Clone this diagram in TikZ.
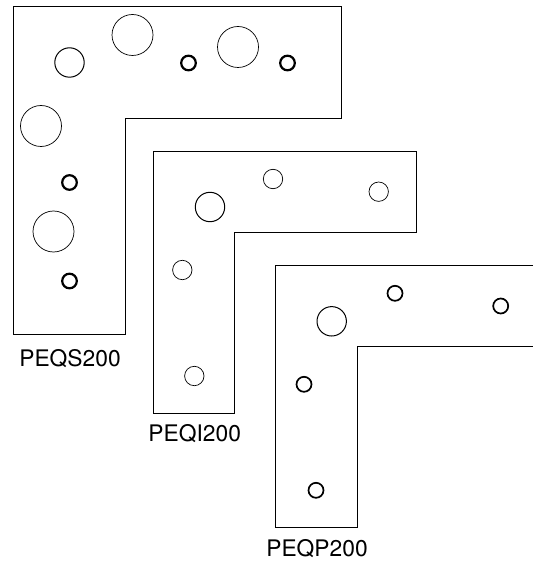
\documentclass[tikz,border=0pt]{standalone}
\usepackage{fontspec}
\setmainfont{TeX Gyre Heros}
\tikzset{
  plate/.style={line width=0.9pt, line join=miter},
  hole/.style={line width=0.7pt},
  midhole/.style={line width=1pt},
  pinhole/.style={line width=1.7pt},
  thickhole/.style={line width=2.2pt},
  platename/.style={font=\fontsize{22.8}{24}\selectfont, inner sep=0pt, anchor=base}
}
\begin{document}
\begin{tikzpicture}[x=1pt, y=-1pt]
   \useasboundingbox (0,0) rectangle (533,561);

   \draw [plate] (13,6.5) -- (341,6.5) -- (341,118.5) -- (125,118.5) -- (125,334) -- (13,334) -- cycle;
   \draw [midhole] (69.5,62.5) circle [radius=14.7];
   \draw [hole] (132.5,35) circle [radius=20.5];
   \draw [hole] (238,47) circle [radius=20.5];
   \draw [hole] (41,126) circle [radius=20.5];
   \draw [hole] (53.5,231.5) circle [radius=20.5];
   \draw [thickhole] (188.5,63) circle [radius=7.3];
   \draw [thickhole] (287.5,63) circle [radius=7.3];
   \draw [thickhole] (69.5,182.5) circle [radius=7.3];
   \draw [thickhole] (69.5,281) circle [radius=7.3];
   \node [platename] (nameS) at (70,366.7) {PEQS200};

   \draw [plate] (153.5,151) -- (416,151) -- (416,232) -- (234.5,232) -- (234.5,413) -- (153.5,413) -- cycle;
   \draw [midhole] (210,207) circle [radius=14.7];
   \draw [hole] (273,179) circle [radius=9.7];
   \draw [hole] (378.7,191.7) circle [radius=9.7];
   \draw [hole] (182.3,270) circle [radius=9.7];
   \draw [hole] (194.3,376) circle [radius=9.7];
   \node [platename] (nameI) at (194.7,441) {PEQI200};

   \draw [plate] (533,265.5) -- (275.5,265.5) -- (275.5,527.5) -- (357,527.5) -- (357,346) -- (533,346);
   \draw [midhole] (331.7,321.3) circle [radius=14.7];
   \draw [pinhole] (395,293.3) circle [radius=7.5];
   \draw [pinhole] (500.7,306) circle [radius=7.5];
   \draw [pinhole] (304,384.3) circle [radius=7.5];
   \draw [pinhole] (316,490.3) circle [radius=7.5];
   \node [platename] (nameP) at (317,556.7) {PEQP200};
\end{tikzpicture}
\end{document}
